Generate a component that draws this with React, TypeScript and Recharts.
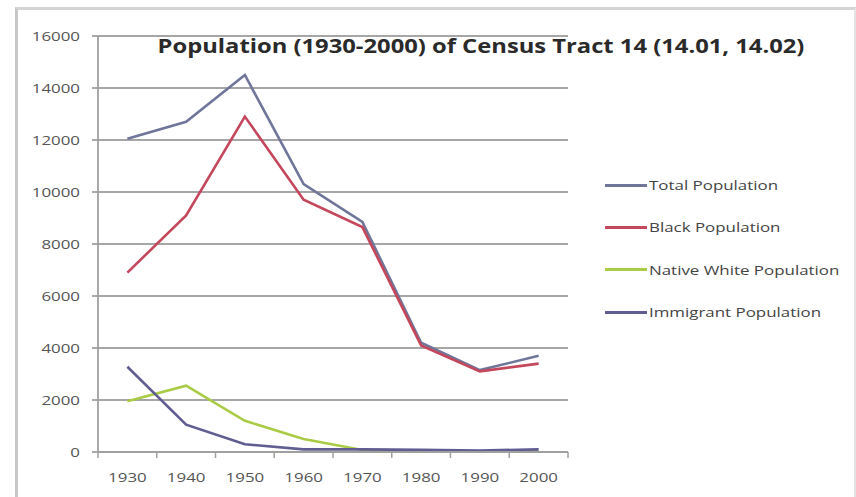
import React from "react";
import { CartesianGrid, Line, LineChart, XAxis, YAxis } from "recharts";

const years = ["1930", "1940", "1950", "1960", "1970", "1980", "1990", "2000"];
const totalPop = [12050, 12700, 14500, 10300, 8850, 4200, 3150, 3700];
const blackPop = [6900, 9100, 12900, 9700, 8650, 4100, 3100, 3400];
const nativeWhitePop = [1950, 2550, 1200, 500, 80, 50, 30, 30];
const immigrantPop = [3280, 1050, 300, 100, 100, 80, 60, 100];
const yTicks = [0, 2000, 4000, 6000, 8000, 10000, 12000, 14000, 16000];

const chartData = years.map((year, i) => ({
  year,
  total: totalPop[i],
  black: blackPop[i],
  nativeWhite: nativeWhitePop[i],
  immigrant: immigrantPop[i],
}));

const series = [
  { key: "total", name: "Total Population", color: "#6f7699" },
  { key: "black", name: "Black Population", color: "#c4475c" },
  { key: "nativeWhite", name: "Native White Population", color: "#a9cb45" },
  { key: "immigrant", name: "Immigrant Population", color: "#5f5d92" },
];

// the source picture is stretched sideways, so text gets a horizontal scale
const FONT = "'Open Sans', 'DejaVu Sans', sans-serif";
const STRETCH = 1.3;
const PLOT_W = 470;
const BAND = PLOT_W / years.length;

function YearTick(props: any) {
  const { x, y, payload } = props;
  return (
    <g>
      <line x1={x - BAND / 2} x2={x - BAND / 2} y1={y - 8} y2={y - 2} stroke="#a0a0a0" strokeWidth={1.5} />
      {payload.index === years.length - 1 && (
        <line x1={x + BAND / 2} x2={x + BAND / 2} y1={y - 8} y2={y - 2} stroke="#a0a0a0" strokeWidth={1.5} />
      )}
      <text
        transform={`translate(${x},${y + 22}) scale(${STRETCH},1)`}
        textAnchor="middle"
        fill="#555"
        fontSize={13}
        fontFamily={FONT}
      >
        {payload.value}
      </text>
    </g>
  );
}

function ValueTick(props: any) {
  const { x, y, payload } = props;
  return (
    <text
      transform={`translate(${x},${y + 4.5}) scale(${STRETCH},1)`}
      textAnchor="end"
      fill="#555"
      fontSize={13}
      fontFamily={FONT}
    >
      {payload.value}
    </text>
  );
}

export default function App() {
  return (
    <div style={{ position: "absolute", left: 0, top: 0, width: 856, height: 497, background: "#fff" }}>
      <div
        style={{
          position: "absolute",
          left: 15,
          top: 7,
          width: 836,
          height: 500,
          borderLeft: "3px solid #c8c8c8",
          borderTop: "3px solid #d4d4d4",
          borderRight: "2px solid #e4e4e4",
        }}
      />
      <LineChart
        width={856}
        height={497}
        data={chartData}
        margin={{ top: 36, right: 288, bottom: 0, left: 0 }}
      >
        <CartesianGrid vertical={false} stroke="#a6a6a6" strokeWidth={1.8} />
        <XAxis
          dataKey="year"
          scale="band"
          height={45}
          axisLine={{ stroke: "#a0a0a0", strokeWidth: 1.8 }}
          tickLine={false}
          tick={<YearTick />}
          interval={0}
        />
        <YAxis
          width={98}
          domain={[0, 16000]}
          ticks={yTicks}
          interval={0}
          axisLine={{ stroke: "#a0a0a0", strokeWidth: 1.8 }}
          tickLine={{ stroke: "#a0a0a0", strokeWidth: 1.8 }}
          tickSize={6}
          tickMargin={12}
          tick={<ValueTick />}
        />
        {series.map((s) => (
          <Line
            key={s.key}
            type="linear"
            dataKey={s.key}
            name={s.name}
            stroke={s.color}
            strokeWidth={2.6}
            dot={false}
            isAnimationActive={false}
          />
        ))}
      </LineChart>
      <div
        style={{
          position: "absolute",
          left: 605,
          top: 164,
          fontFamily: FONT,
          fontSize: 13,
          color: "#444",
        }}
      >
        {series.map((s) => (
          <div key={s.key} style={{ display: "flex", alignItems: "center", height: 42.3 }}>
            <span style={{ width: 42, height: 3, background: s.color, marginRight: 2 }} />
            <span style={{ display: "inline-block", transform: `scaleX(${STRETCH})`, transformOrigin: "left center", whiteSpace: "nowrap" }}>
              {s.name}
            </span>
          </div>
        ))}
      </div>
      <div
        style={{
          position: "absolute",
          left: 481,
          top: 33,
          transform: "translateX(-50%) scaleX(1.25)",
          fontFamily: FONT,
          fontWeight: 700,
          fontSize: 19,
          color: "#2a2a2a",
          whiteSpace: "nowrap",
        }}
      >
        Population (1930-2000) of Census Tract 14 (14.01, 14.02)
      </div>
    </div>
  );
}
